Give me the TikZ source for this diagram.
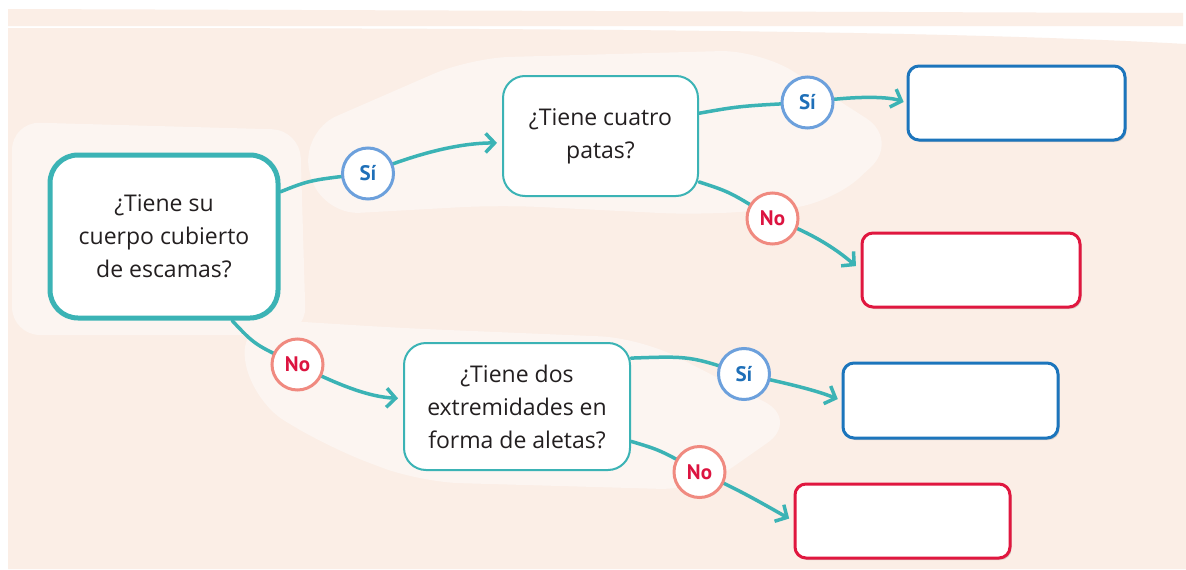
\documentclass[tikz,border=0pt]{standalone}
\usepackage{fontspec}
\setmainfont{Open Sans}
\newfontfamily\labfont{PT Sans}
\usetikzlibrary{arrows.meta,shadows}
\definecolor{tealc}{HTML}{3BB3B5}
\definecolor{bluebox}{HTML}{1C75BC}
\definecolor{redbox}{HTML}{E0173F}
\definecolor{siring}{HTML}{6CA0DC}
\definecolor{noring}{HTML}{F08A80}
\definecolor{sitext}{HTML}{1E6FB8}
\definecolor{notext}{HTML}{DC1440}
\definecolor{peach}{HTML}{FBEEE6}
\definecolor{peachlight}{HTML}{FCF5F1}
\definecolor{txt}{HTML}{231F20}
\pgfdeclarelayer{back}
\pgfdeclarelayer{mid}
\pgfsetlayers{back,mid,main}
\tikzset{
  qbox/.style={draw=tealc, line width=2pt, fill=white, rounded corners=22pt, align=center, text=txt,
    font=\fontsize{23}{33}\selectfont, inner sep=0pt},
  qmain/.style={qbox, line width=5pt, rounded corners=28pt},
  ansbox/.style={fill=white, line width=3pt, rounded corners=11pt, inner sep=0pt,
    drop shadow={shadow xshift=1.5pt, shadow yshift=-2pt, opacity=0.15, fill=black}},
  bluea/.style={ansbox, draw=bluebox},
  reda/.style={ansbox, draw=redbox},
  tag/.style={circle, fill=white, line width=3pt, minimum size=51pt, inner sep=0pt,
    font=\labfont\bfseries\fontsize{21}{21}\selectfont},
  sitag/.style={tag, draw=siring, text=sitext},
  notag/.style={tag, draw=noring, text=notext},
  conn/.style={draw=tealc, line width=3.5pt, line cap=round},
  arr/.style={conn, -{Straight Barb[length=9pt,width=19pt]}},
}
\begin{document}
\begin{tikzpicture}[x=1pt,y=-1pt]
\useasboundingbox (0,0) rectangle (1186,570);

% nodes
\node[qmain, minimum width=228pt, minimum height=163pt] (n1) at (164,236.5)
  {¿Tiene su\\cuerpo cubierto\\de escamas?};
\node[qbox, minimum width=195pt, minimum height=120pt] (n2) at (600.5,136)
  {¿Tiene cuatro\\patas?};
\node[qbox, minimum width=226pt, minimum height=127pt] (n3) at (517,406.5)
  {¿Tiene dos\\extremidades en\\forma de aletas?};
\node[bluea, minimum width=217pt, minimum height=74pt] (b1) at (1016.5,103) {};
\node[reda, minimum width=218pt, minimum height=74pt] (r1) at (971,270) {};
\node[bluea, minimum width=215pt, minimum height=75pt] (b2) at (950.5,400.5) {};
\node[reda, minimum width=215pt, minimum height=74pt] (r2) at (902.5,521) {};

\node[sitag] (s1) at (368,173.5) {Sí};
\node[sitag] (s2) at (807.5,102.5) {Sí};
\node[notag] (o2) at (772.5,218.5) {No};
\node[notag] (o1) at (297.5,364.5) {No};
\node[sitag] (s3) at (744,374) {Sí};
\node[notag] (o3) at (699.5,472) {No};

% connectors
\begin{pgfonlayer}{mid}
\draw[conn] (n1.21) .. controls (310,180) .. (s1.center);
\draw[arr, shorten >=5pt] (s1.center) .. controls (425,150) and (465,143) .. (n2.184);
\draw[conn] (n2.13) .. controls (740,106) .. (s2.center);
\draw[arr, shorten >=3pt] (s2.center) .. controls (860,95) and (890,97) .. (b1.west);
\draw[conn] (n2.-25) .. controls (730,192) .. (o2.center);
\draw[arr, shorten >=6pt] (o2.center) .. controls (810,232) and (835,248) .. (r1.west);
\draw[conn] (n1.-51) .. controls (255,345) .. (o1.center);
\draw[arr, shorten >=5pt] (o1.center) .. controls (340,386) and (370,397) .. (n3.176);
\draw[conn] (n3.23) .. controls (690,356) .. (s3.center);
\draw[arr, shorten >=4pt] (s3.center) .. controls (790,384) and (815,390) .. (b2.west);
\draw[conn] (n3.-17) .. controls (660,450) .. (o3.center);
\draw[arr, shorten >=5pt] (o3.center) .. controls (740,490) and (765,505) .. (r2.west);
\end{pgfonlayer}

% background
\begin{pgfonlayer}{back}
\fill[white] (0,0) rectangle (1186,570);
\fill[peach] (8,9) -- (1183,13) -- (1183,26) -- (8,26) -- cycle;
\fill[peach] (8,28) .. controls (600,28) and (950,31) .. (1186,44) -- (1186,569) -- (8,569) -- cycle;
\fill[peachlight, rounded corners=28pt] (12,122) -- (300,130) -- (306,335) -- (12,335) -- cycle;
\fill[peachlight, rounded corners=40pt] (300,132) -- (470,58) -- (760,50) -- (900,140) -- (830,205) -- (700,215) -- (500,205) -- (320,215) -- cycle;
\fill[peachlight, rounded corners=40pt] (240,318) -- (400,328) -- (640,338) -- (800,420) -- (700,490) -- (420,482) -- (330,448) -- (250,400) -- cycle;
\end{pgfonlayer}
\end{tikzpicture}
\end{document}
